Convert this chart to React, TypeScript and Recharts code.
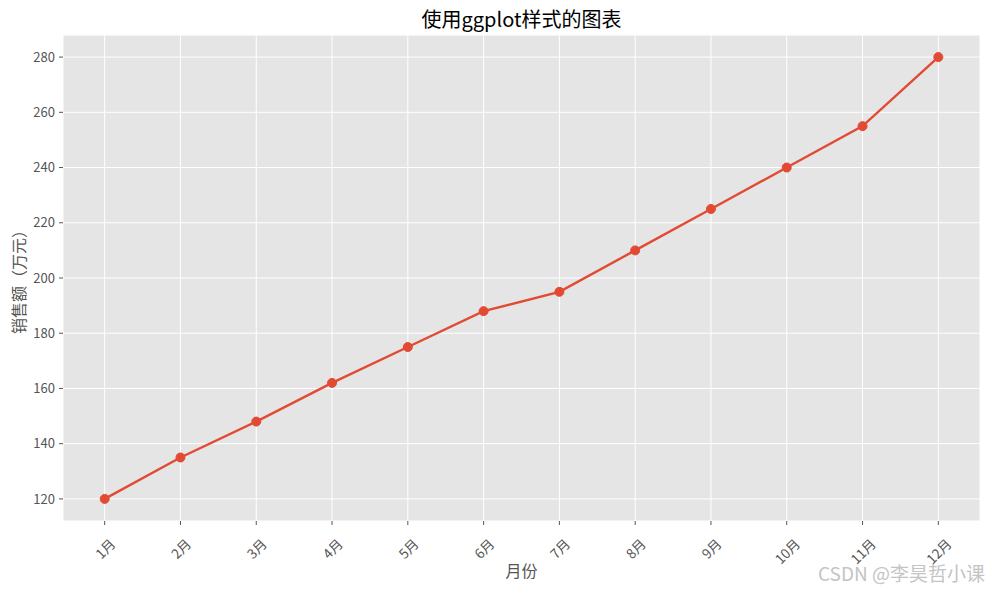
import { LineChart, Line, XAxis, YAxis, CartesianGrid, Label } from "recharts"

const months = ["1月", "2月", "3月", "4月", "5月", "6月", "7月", "8月", "9月", "10月", "11月", "12月"]
const sales = [120, 135, 148, 162, 175, 188, 195, 210, 225, 240, 255, 280]
const yTicks = [120, 140, 160, 180, 200, 220, 240, 260, 280]

const data = months.map((m, i) => ({ idx: i, month: m, sales: sales[i] }))

const FONT = '"Noto Sans CJK SC", "Noto Sans", sans-serif'
const TICK_COLOR = "#555555"

function MonthTick(props: any) {
  const { x, y, payload } = props
  const label = months[payload.value] ?? ""
  // rough width of the label so the rotated box sits centred under the tick
  const w = label.length * 13.5 * 0.55 + 13.5 * 0.45
  const half = (w + 13.5) / (2 * Math.SQRT2)
  return (
    <text
      transform={`translate(${x},${y + 9 + half}) rotate(-45)`}
      textAnchor="middle"
      dominantBaseline="central"
      fontSize={13.5}
      fontFamily={FONT}
      fill={TICK_COLOR}
    >
      {label}
    </text>
  )
}

export default function App() {
  return (
    <div
      style={{
        position: "absolute",
        left: 0,
        top: 0,
        width: 989,
        height: 590,
        background: "#fff",
        fontFamily: FONT,
      }}
    >
      <div
        style={{
          position: "absolute",
          left: 63,
          width: 917,
          top: 5,
          textAlign: "center",
          fontSize: 20,
          color: "#000",
          lineHeight: "28px",
        }}
      >
        使用ggplot样式的图表
      </div>
      <LineChart
        width={989}
        height={590}
        data={data}
        margin={{ top: 35, right: 9, left: 13, bottom: 0 }}
      >
        <CartesianGrid fill="#E5E5E5" stroke="#ffffff" strokeWidth={1} />
        <XAxis
          dataKey="idx"
          type="number"
          domain={[-0.55, 11.55]}
          ticks={data.map((d) => d.idx)}
          interval={0}
          height={69}
          axisLine={false}
          tickSize={4}
          tickLine={{ stroke: TICK_COLOR }}
          tick={<MonthTick />}
        >
          <Label
            content={({ viewBox }: any) => (
              <text
                x={viewBox.x + viewBox.width / 2}
                y={viewBox.y + 56}
                textAnchor="middle"
                fontSize={16}
                fontFamily={FONT}
                fill={TICK_COLOR}
              >
                月份
              </text>
            )}
          />
        </XAxis>
        <YAxis
          type="number"
          domain={[112, 288]}
          ticks={yTicks}
          allowDataOverflow
          width={50}
          axisLine={false}
          tickSize={4}
          tickMargin={4}
          tickLine={{ stroke: TICK_COLOR }}
          tick={{ fontSize: 13, fill: TICK_COLOR, fontFamily: FONT }}
        >
          <Label
            content={({ viewBox }: any) => (
              <text
                transform={`translate(${viewBox.x + 5},${viewBox.y + viewBox.height / 2}) rotate(-90)`}
                textAnchor="middle"
                dominantBaseline="central"
                fontSize={16}
                fontFamily={FONT}
                fill={TICK_COLOR}
              >
                销售额（万元）
              </text>
            )}
          />
        </YAxis>
        <Line
          type="linear"
          dataKey="sales"
          stroke="#E24A33"
          strokeWidth={2.4}
          dot={{ r: 4.5, fill: "#E24A33", stroke: "#E24A33", strokeWidth: 1 }}
          activeDot={false}
          isAnimationActive={false}
        />
      </LineChart>
      <div
        style={{
          position: "absolute",
          right: 4,
          top: 561,
          fontSize: 19,
          color: "#c4c4c4",
          lineHeight: "24px",
          whiteSpace: "nowrap",
        }}
      >
        CSDN @李昊哲小课
      </div>
    </div>
  )
}
